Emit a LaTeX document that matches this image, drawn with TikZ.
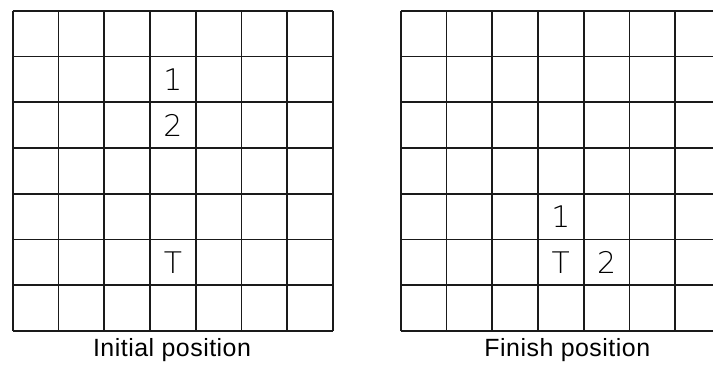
\documentclass[tikz,border=0pt]{standalone}
\usepackage{fontspec}
\setmainfont{Liberation Sans}
\newfontfamily\rotulofont[LetterSpace=2]{Liberation Sans}
\newfontfamily\celdafont{DejaVu Sans ExtraLight}
\begin{document}
\begin{tikzpicture}[x=1cm, y=1cm, font=\rotulofont\fontsize{15.5}{17}\selectfont]
    % --- Colores y estilos ---
    \definecolor{lineagrid}{HTML}{1A1A1A}
    \tikzset{
        rejilla/.style={lineagrid, line width=1.1pt},
        celda/.style={font=\celdafont\fontsize{18.5}{20}\selectfont, inner sep=0pt},
        rotulo/.style={anchor=base, inner sep=0pt}
    }

    % --- Marco de la imagen ---
    \useasboundingbox (0,0) rectangle (15.585,8.022);
    \clip (0,0) rectangle (15.585,8.022);

    % --- Tablero izquierdo: posicion inicial ---
    \begin{scope}[shift={(0.278,0.787)}]
        \draw[rejilla] (0,0) grid (7,7);
        \node[celda] (ini1) at (3.5,5.5) {1};
        \node[celda] (ini2) at (3.5,4.5) {2};
        \node[celda] (iniT) at (3.5,1.5) {T};
    \end{scope}
    \node[rotulo] (rotini) at (3.76,0.219) {Initial position};

    % --- Tablero derecho: posicion final (cortado por el borde) ---
    \begin{scope}[shift={(8.758,0.787)}]
        \draw[rejilla] (0,0) grid (7,7);
        \node[celda] (fin1) at (3.5,2.5) {1};
        \node[celda] (finT) at (3.5,1.5) {T};
        \node[celda] (fin2) at (4.5,1.5) {2};
    \end{scope}
    \node[rotulo] (rotfin) at (12.40,0.219) {Finish position};
\end{tikzpicture}
\end{document}
